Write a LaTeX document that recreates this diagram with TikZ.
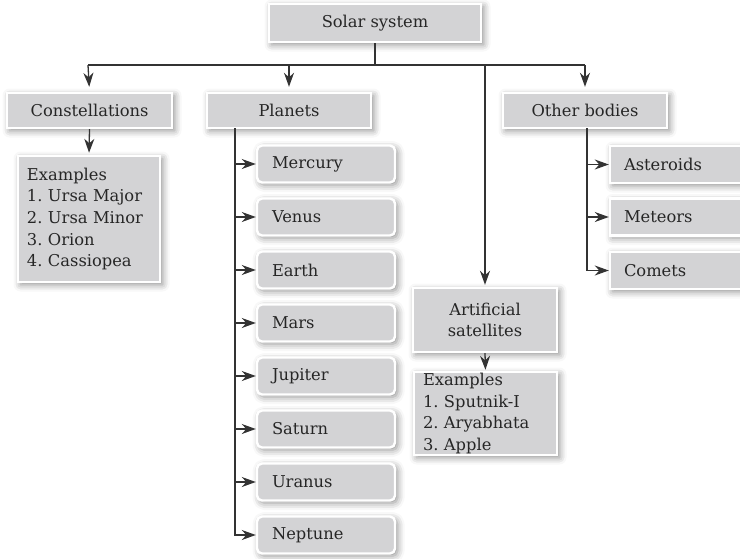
\documentclass[tikz,border=0pt]{standalone}
\usepackage{fontspec}
\setmainfont{DejaVu Serif}
\usetikzlibrary{arrows.meta,shadows.blur}
\definecolor{boxfill}{HTML}{D3D3D5}
\definecolor{ink}{HTML}{333333}
\definecolor{txt}{HTML}{262626}
\tikzset{
  box/.style={draw=white, line width=2.4pt, fill=boxfill, text=txt,
    font=\fontsize{16.3}{21.7}\selectfont\frenchspacing, inner sep=0pt,
    blur shadow={shadow xshift=2.5pt, shadow yshift=-2.5pt, shadow blur radius=7pt, shadow opacity=45}},
  cbox/.style={box, align=center},
  pbox/.style={box, rounded corners=5pt, minimum height=37pt, text width=108pt, inner xsep=15pt, align=left},
  obox/.style={box, minimum height=37pt, text width=136pt, inner xsep=14pt, align=left},
  conn/.style={draw=ink, line width=1.3pt},
  arr/.style={conn, -{Stealth[length=14pt,width=10pt,inset=4.5pt]}},
}
\begin{document}
\begin{tikzpicture}[x=1pt,y=-1pt]
\useasboundingbox (0,0) rectangle (740,558);
\clip (0,0) rectangle (740,558);
% top level
\node[cbox, minimum width=212pt, minimum height=38pt] (solar) at (375,23) {Solar system};
\node[cbox, minimum width=165pt, minimum height=35pt] (const) at (89.5,110.5) {Constellations};
\node[cbox, minimum width=164pt, minimum height=35pt] (planets) at (289,110.5) {Planets};
\node[cbox, minimum width=164pt, minimum height=35pt] (other) at (585,110.5) {Other bodies};
\node[cbox, minimum width=144pt, minimum height=64pt] (art) at (485,320) {Artificial\\satellites};
% examples
\node[box, text width=124pt, inner xsep=9pt, minimum height=126pt, align=left] (ex1) at (89,219)
  {Examples\\1. Ursa Major\\2. Ursa Minor\\3. Orion\\4. Cassiopea};
\node[box, text width=125pt, inner xsep=9pt, minimum height=83pt, align=left] (ex2) at (485.5,413.5)
  {Examples\\1. Sputnik-I\\2. Aryabhata\\3. Apple};
% planets
\node[pbox] (p1) at (326,164) {Mercury};
\node[pbox] (p2) at (326,217) {Venus};
\node[pbox] (p3) at (326,270) {Earth};
\node[pbox] (p4) at (326,323) {Mars};
\node[pbox] (p5) at (326,376) {Jupiter};
\node[pbox] (p6) at (326,429) {Saturn};
\node[pbox] (p7) at (326,482) {Uranus};
\node[pbox] (p8) at (326,535) {Neptune};
% other bodies
\node[obox] (o1) at (692,164.5) {Asteroids};
\node[obox] (o2) at (692,217) {Meteors};
\node[obox] (o3) at (692,270.5) {Comets};
% connectors
\coordinate (hub) at (375,65);
\coordinate (hl) at (88,65);
\coordinate (hr) at (585,65);
\coordinate (ptop) at (235,128);
\coordinate (otop) at (587,128);
\draw[conn] (solar.south) -- (hub);
\draw[conn] (hl) -- (hr);
\draw[arr, shorten >=5pt] (hl) -- (const.north);
\draw[arr, shorten >=5pt] (hub) -| (planets.north);
\draw[arr, shorten >=2pt] (hub) -| (art.north);
\draw[arr, shorten >=5pt] (hr) -- (other.north);
\draw[arr, shorten >=2pt] (const.south) -- (ex1.north);
\draw[arr, shorten >=1pt] (art.south) -- (ex2.north);
\foreach \p in {p1,p2,p3,p4,p5,p6,p7,p8}{
  \draw[arr] (ptop) |- (\p.west);
}
\foreach \o in {o1,o2,o3}{
  \draw[arr] (otop) |- (\o.west);
}
\end{tikzpicture}
\end{document}
